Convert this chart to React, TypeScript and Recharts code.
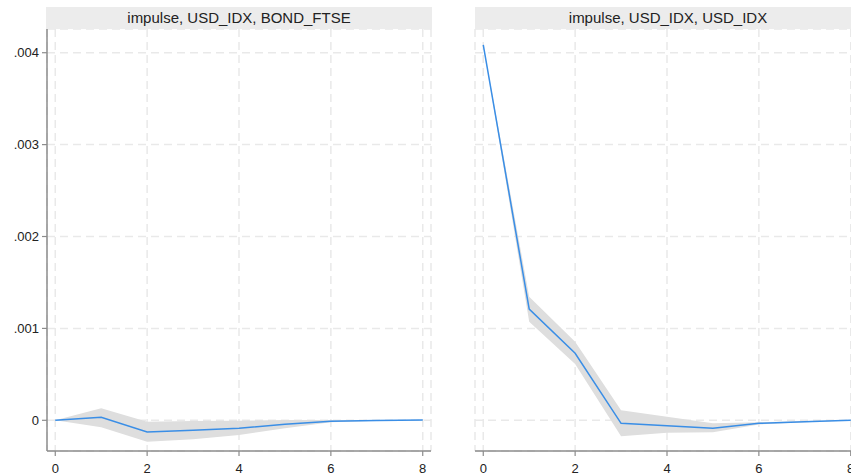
import React from 'react';
import { ComposedChart, Area, Line, XAxis, YAxis, CartesianGrid } from 'recharts';

// Impulse-response horizons
const steps = [0, 1, 2, 3, 4, 5, 6, 7, 8];

// impulse USD_IDX -> response BOND_FTSE
const bondIrf = [0, 0.000033, -0.000127, -0.000109, -0.000087, -0.000044, -0.000011, -0.000002, 0.000002];
const bondLo = [0, -0.000076, -0.000233, -0.000207, -0.00016, -0.000087, -0.000022, -0.000006, -0.000001];
const bondHi = [0, 0.00013, -0.000015, -0.000008, -0.000004, 0.000003, 0.000002, 0.000002, 0.000004];

// impulse USD_IDX -> response USD_IDX
const usdIrf = [0.004084, 0.001211, 0.000729, -0.000033, -0.000058, -0.000087, -0.000033, -0.000015, 0];
const usdLo = [0.004084, 0.001073, 0.000613, -0.000174, -0.000135, -0.00013, -0.000045, -0.000022, -0.000003];
const usdHi = [0.004084, 0.001345, 0.000855, 0.000109, 0.00004, -0.000033, -0.000021, -0.000008, 0.000003];

const xTicks = [0, 2, 4, 6, 8];
const yTicks = [0, 0.001, 0.002, 0.003, 0.004];
const panelTitles = ['impulse, USD_IDX, BOND_FTSE', 'impulse, USD_IDX, USD_IDX'];

const FONT = '"Liberation Sans", Arial, Helvetica, sans-serif';
const AXIS = '#8c8c8c';
const GRID = '#e9e9e9';
const LINE = '#3a8ee6';
const BAND = '#dedede';
const TEXT = '#222222';

const Y_DOMAIN: [number, number] = [-0.000334, 0.004258];
const X_DOMAIN: [number, number] = [-0.18, 8.18];

const fmtY = (v: number) => (v === 0 ? '0' : v.toFixed(3).replace(/^0/, ''));

function build(irf: number[], lo: number[], hi: number[]) {
  return steps.map((s, i) => ({ step: s, irf: irf[i], band: [lo[i], hi[i]] }));
}

const bondData = build(bondIrf, bondLo, bondHi);
const usdData = build(usdIrf, usdLo, usdHi);

function Panel({ data, showY, left }: { data: any[]; showY: boolean; left: number }) {
  return (
    <div style={{ position: 'absolute', left, top: 0 }}>
      <ComposedChart
        width={440}
        height={476}
        data={data}
        margin={{ top: 29, right: 9, bottom: 0, left: showY ? 0 : 47 }}
      >
        <CartesianGrid stroke={GRID} strokeWidth={1.5} strokeDasharray="8 5" />
        <XAxis
          type="number"
          dataKey="step"
          domain={X_DOMAIN}
          ticks={xTicks}
          allowDataOverflow
          height={25}
          tickSize={5}
          tickMargin={8}
          stroke={AXIS}
          axisLine={{ stroke: AXIS, strokeWidth: 1.5 }}
          tickLine={{ stroke: AXIS, strokeWidth: 1.2 }}
          tick={{ fill: TEXT, fontSize: 13, fontFamily: FONT }}
        />
        <YAxis
          type="number"
          domain={Y_DOMAIN}
          ticks={yTicks}
          allowDataOverflow
          hide={!showY}
          width={47}
          tickSize={5}
          tickMargin={3}
          tickFormatter={fmtY}
          axisLine={{ stroke: AXIS, strokeWidth: 1.5 }}
          tickLine={{ stroke: AXIS, strokeWidth: 1.2 }}
          tick={{ fill: TEXT, fontSize: 13, fontFamily: FONT }}
        />
        <Area
          type="linear"
          dataKey="band"
          stroke="none"
          fill={BAND}
          fillOpacity={1}
          isAnimationActive={false}
          activeDot={false}
        />
        <Line
          type="linear"
          dataKey="irf"
          stroke={LINE}
          strokeWidth={1.5}
          dot={false}
          activeDot={false}
          isAnimationActive={false}
        />
      </ComposedChart>
    </div>
  );
}

function TitleBar({ text, left, width }: { text: string; left: number; width: number }) {
  return (
    <div
      style={{
        position: 'absolute',
        left,
        top: 7,
        width,
        height: 22,
        background: '#ececec',
        color: TEXT,
        fontFamily: FONT,
        fontSize: 15,
        lineHeight: '22px',
        textAlign: 'center',
        whiteSpace: 'nowrap',
      }}
    >
      {text}
    </div>
  );
}

export default function App() {
  return (
    <div
      style={{
        position: 'absolute',
        left: 0,
        top: 0,
        width: 851,
        height: 476,
        overflow: 'hidden',
        background: '#ffffff',
      }}
    >
      <Panel data={bondData} showY left={0} />
      <Panel data={usdData} showY={false} left={428} />
      <TitleBar text={panelTitles[0]} left={46} width={386} />
      <TitleBar text={panelTitles[1]} left={475} width={386} />
    </div>
  );
}
